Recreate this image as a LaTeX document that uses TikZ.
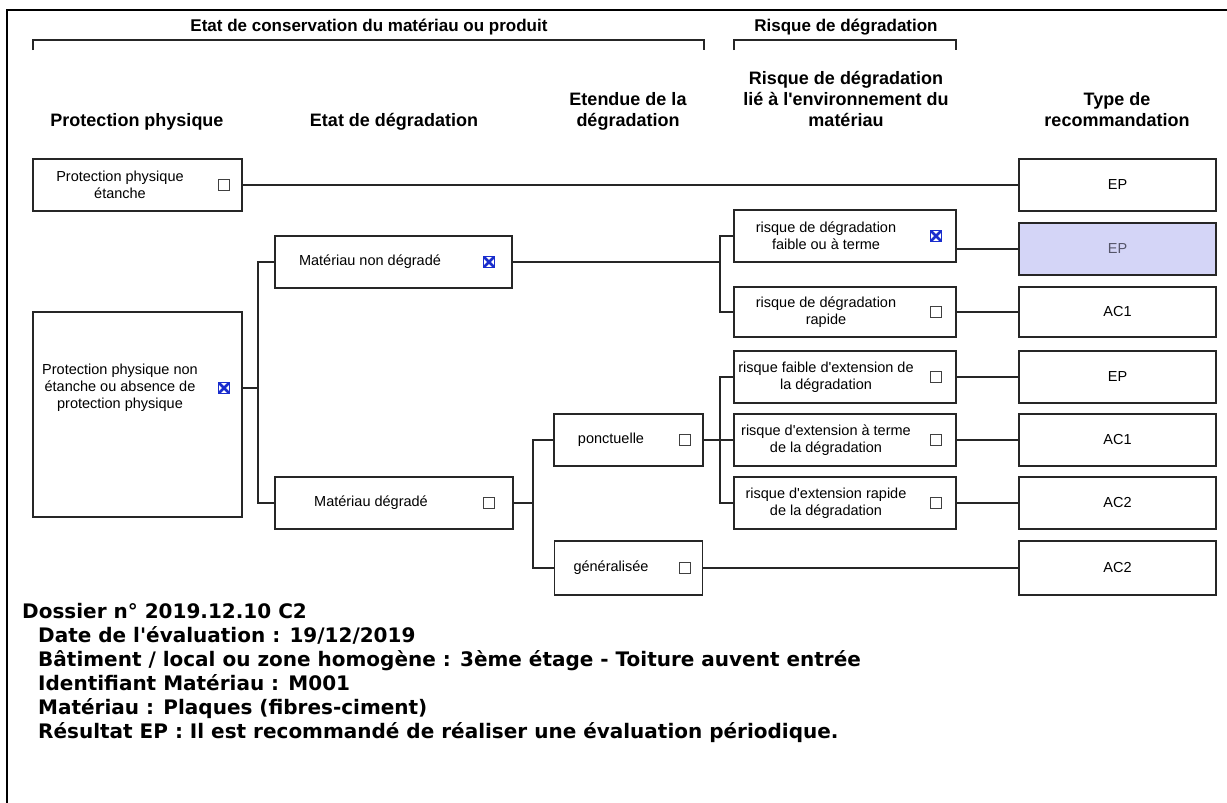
\documentclass[tikz,border=0pt]{standalone}
\usepackage{fontspec}
\setmainfont{Liberation Sans}
\newfontfamily\verdana{DejaVu Sans}
\definecolor{epfill}{RGB}{212,213,247}
\definecolor{eptext}{RGB}{85,85,105}
\definecolor{xblue}{RGB}{25,45,205}

\begin{document}
\begin{tikzpicture}[x=1pt, y=-1pt,
	box/.style={draw=black!85, line width=1.9, inner sep=0pt, minimum height=52},
	txt/.style={align=center, font=\fontsize{14.5}{17}\selectfont, inner sep=0pt},
	head/.style={align=center, font=\fontsize{18}{21}\selectfont\bfseries, anchor=south, inner sep=0pt},
	top/.style={font=\fontsize{17}{20}\selectfont\bfseries, anchor=base, inner sep=0pt},
	info/.style={font=\verdana\fontsize{20}{24}\selectfont\bfseries, anchor=base west, inner sep=0pt},
	cb/.style={draw=black!75, line width=1.2, minimum size=10.5, inner sep=0pt},
	cbx/.style={cb, draw=xblue, path picture={
		\draw[xblue, line width=2.8] (path picture bounding box.north west) -- (path picture bounding box.south east)
			(path picture bounding box.north east) -- (path picture bounding box.south west);}},
	wire/.style={line width=1.9, draw=black!85}]
			\useasboundingbox (0,0) rectangle (1227,803);

			% frame
			\draw [line width=2.4] (7,803) -- (7,10) -- (1227,10) ;

			% brackets on top
			\node[top] (conserv) at (369,31) {Etat de conservation du matériau ou produit};
			\draw [wire] (33,50) -- (33,40) -- (704,40) -- (704,50) ;
			\node[top] (risque) at (846,31) {Risque de dégradation};
			\draw [wire] (734,50) -- (734,40) -- (956,40) -- (956,50) ;

			% column headers
			\node[head] (h1) at (137,133) {Protection physique\strut};
			\node[head] (h2) at (394,133) {Etat de dégradation\strut};
			\node[head] (h3) at (628,133) {Etendue de la\\dégradation\strut};
			\node[head] (h4) at (846,133) {Risque de dégradation\\lié à l\textquotesingle environnement du\\matériau\strut};
			\node[head] (h5) at (1117,133) {Type de\\recommandation\strut};

			% protection physique
			\node[box, minimum width=209] (ppe) at (137.5,185) {};
			\node[txt] (ppetxt) at (120,185) {Protection physique\\étanche};
			\node[cb] (ppecb) at (224,185) {};

			\node[box, minimum width=209, minimum height=205] (ppne) at (137.5,414.5) {};
			\node[txt] (ppnetxt) at (120,388) {Protection physique non\\étanche ou absence de\\protection physique};
			\node[cbx] (ppnecb) at (224,388) {};

			% etat de degradation
			\node[box, minimum width=237] (mnd) at (393.5,262) {};
			\node[txt] (mndtxt) at (370,262) {Matériau non dégradé};
			\node[cbx] (mndcb) at (489,262) {};

			\node[box, minimum width=238] (md) at (394,503) {};
			\node[txt] (mdtxt) at (371,503) {Matériau dégradé};
			\node[cb] (mdcb) at (489,503) {};

			% etendue
			\node[box, minimum width=149] (ponct) at (628.5,440) {};
			\node[txt] (poncttxt) at (611,440) {ponctuelle};
			\node[cb] (ponctcb) at (685,440) {};

			\node[box, minimum width=148, minimum height=54] (gen) at (628.5,568) {};
			\node[txt] (gentxt) at (611,568) {généralisée};
			\node[cb] (gencb) at (685,568) {};

			% risque lie a l'environnement
			\node[box, minimum width=222] (r1) at (845,236) {};
			\node[txt] (r1txt) at (826,236) {risque de dégradation\\faible ou à terme};
			\node[cbx] (r1cb) at (936,236) {};

			\node[box, minimum width=222, minimum height=50] (r2) at (845,312) {};
			\node[txt] (r2txt) at (826,312) {risque de dégradation\\rapide};
			\node[cb] (r2cb) at (936,312) {};

			\node[box, minimum width=222] (r3) at (845,377) {};
			\node[txt] (r3txt) at (826,377) {risque faible d\textquotesingle extension de\\la dégradation};
			\node[cb] (r3cb) at (936,377) {};

			\node[box, minimum width=222] (r4) at (845,440) {};
			\node[txt] (r4txt) at (826,440) {risque d\textquotesingle extension à terme\\de la dégradation};
			\node[cb] (r4cb) at (936,440) {};

			\node[box, minimum width=222] (r5) at (845,503) {};
			\node[txt] (r5txt) at (826,503) {risque d\textquotesingle extension rapide\\de la dégradation};
			\node[cb] (r5cb) at (936,503) {};

			% type de recommandation
			\node[box, txt, minimum width=197, minimum height=52] (t0) at (1117.5,185) {EP};
			\node[box, txt, minimum width=197, minimum height=52, fill=epfill, text=eptext] (t1) at (1117.5,249) {EP};
			\node[box, txt, minimum width=197, minimum height=50] (t2) at (1117.5,312) {AC1};
			\node[box, txt, minimum width=197, minimum height=52] (t3) at (1117.5,377) {EP};
			\node[box, txt, minimum width=197, minimum height=52] (t4) at (1117.5,440) {AC1};
			\node[box, txt, minimum width=197, minimum height=52] (t5) at (1117.5,503) {AC2};
			\node[box, txt, minimum width=197, minimum height=54] (t6) at (1117.5,568) {AC2};

			% bus points
			\coordinate (busa) at (258,388);
			\coordinate (busb) at (720,262);
			\coordinate (busc) at (533,503);
			\coordinate (busd) at (720,440);

			% connectors
			\draw [wire] (ppe.east) -- (t0.west) ;
			\draw [wire] (ppne.east |- ppnecb) -- (busa) ;
			\draw [wire] (mnd.west) -| (busa) |- (md.west) ;
			\draw [wire] (mnd.east) -- (busb) ;
			\draw [wire] (r1.west) -| (busb) |- (r2.west) ;
			\draw [wire] (r1.east |- t1.west) -- (t1.west) ;
			\draw [wire] (r2.east) -- (t2.west) ;
			\draw [wire] (md.east) -- (busc) ;
			\draw [wire] (ponct.west) -| (busc) |- (gen.west) ;
			\draw [wire] (ponct.east) -- (busd) ;
			\draw [wire] (r3.west) -| (busd) |- (r5.west) ;
			\draw [wire] (busd) -- (r4.west) ;
			\draw [wire] (r3.east) -- (t3.west) ;
			\draw [wire] (r4.east) -- (t4.west) ;
			\draw [wire] (r5.east) -- (t5.west) ;
			\draw [wire] (gen.east) -- (t6.west) ;

			% dossier text
			\node[info] (dossier) at (22,618) {Dossier n° 2019.12.10 C2};
			\node[info] (date) at (38,642) {Date de l'évaluation : 19/12/2019};
			\node[info] (batiment) at (38,666) {Bâtiment / local ou zone homogène : 3ème étage - Toiture auvent entrée};
			\node[info] (ident) at (38,690) {Identifiant Matériau : M001};
			\node[info] (materiau) at (38,714) {Matériau : Plaques (fibres-ciment)};
			\node[info] (resultat) at (38,738) {Résultat EP : Il est recommandé de réaliser une évaluation périodique.};
\end{tikzpicture}
\end{document}
